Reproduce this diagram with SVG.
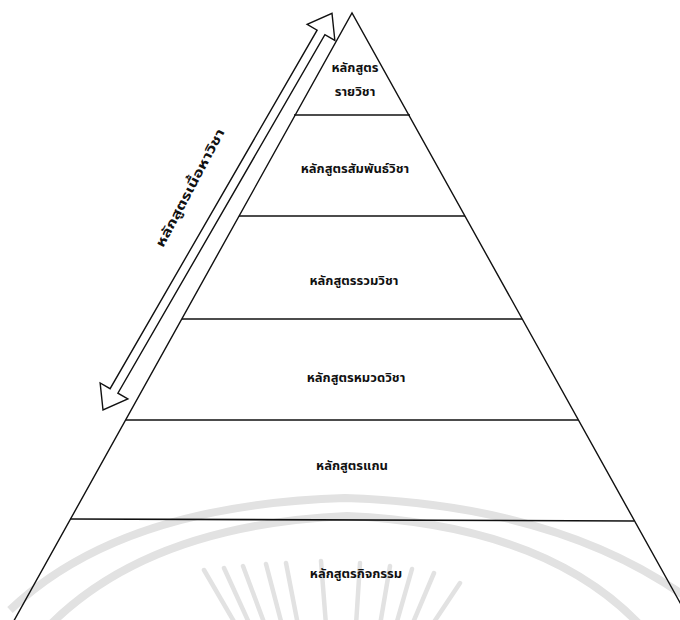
<svg xmlns="http://www.w3.org/2000/svg" width="680" height="620" viewBox="0 0 680 620">
<style>
.edge{stroke:#111;stroke-width:1.4;fill:none}
.tier{stroke:#111;stroke-width:1.6}
.lbl{font-family:"Noto Sans Thai","Noto Sans","DejaVu Sans",sans-serif;font-weight:bold;font-size:13px;fill:#111;text-anchor:middle}
.wm{stroke:#e2e2e2;fill:none;stroke-width:8}
.ray{stroke:#e2e2e2;stroke-width:4.5;stroke-linecap:round}
</style>
<rect width="680" height="620" fill="#fff"/>
<g id="watermark">
<path class="wm" d="M10,610 Q120,505 345,498 Q560,505 690,600"/>
<path class="wm" d="M50,625 Q150,525 347,516 Q545,525 640,625"/>
<line class="ray" x1="204" y1="570" x2="236" y2="625"/>
<line class="ray" x1="224" y1="568" x2="250" y2="625"/>
<line class="ray" x1="243" y1="566" x2="265" y2="625"/>
<line class="ray" x1="266" y1="564" x2="282" y2="625"/>
<line class="ray" x1="286" y1="563" x2="298" y2="625"/>
<line class="ray" x1="321" y1="561" x2="326" y2="625"/>
<line class="ray" x1="360" y1="563" x2="356" y2="625"/>
<line class="ray" x1="390" y1="566" x2="380" y2="625"/>
<line class="ray" x1="412" y1="569" x2="396" y2="625"/>
<line class="ray" x1="434" y1="573" x2="412" y2="625"/>
<line class="ray" x1="460" y1="583" x2="432" y2="625"/>
</g>
<g id="pyramid">
<path class="edge" d="M11,626 L352,13 L693,626"/>
</g>
<g id="tier1">
<line class="tier" x1="294" y1="115" x2="410" y2="115"/>
<text class="lbl" x="355" y="72">หลักสูตร</text>
<text class="lbl" x="355" y="96">รายวิชา</text>
</g>
<g id="tier2">
<line class="tier" x1="239" y1="216" x2="465" y2="216"/>
<text class="lbl" x="355" y="173">หลักสูตรสัมพันธ์วิชา</text>
</g>
<g id="tier3">
<line class="tier" x1="182" y1="319" x2="522" y2="319"/>
<text class="lbl" x="354" y="285">หลักสูตรรวมวิชา</text>
</g>
<g id="tier4">
<line class="tier" x1="126" y1="420" x2="578" y2="420"/>
<text class="lbl" x="356" y="382">หลักสูตรหมวดวิชา</text>
</g>
<g id="tier5">
<line class="tier" x1="70" y1="519" x2="634" y2="521"/>
<text class="lbl" x="352" y="470">หลักสูตรแกน</text>
</g>
<g id="tier6">
<text class="lbl" x="356" y="578">หลักสูตรกิจกรรม</text>
</g>
<g id="connectors">
<polygon class="edge" transform="translate(103,410) rotate(-60)" points="0,0 22,-16 22,-4.5 436,-4.5 436,-16 458,0 436,16 436,4.5 22,4.5 22,16"/>
</g>
<g id="side-label">
<text class="lbl" font-size="14" textLength="132" lengthAdjust="spacingAndGlyphs" transform="translate(194,190) rotate(-62)">หลักสูตรเนื้อหาวิชา</text>
</g>
</svg>
